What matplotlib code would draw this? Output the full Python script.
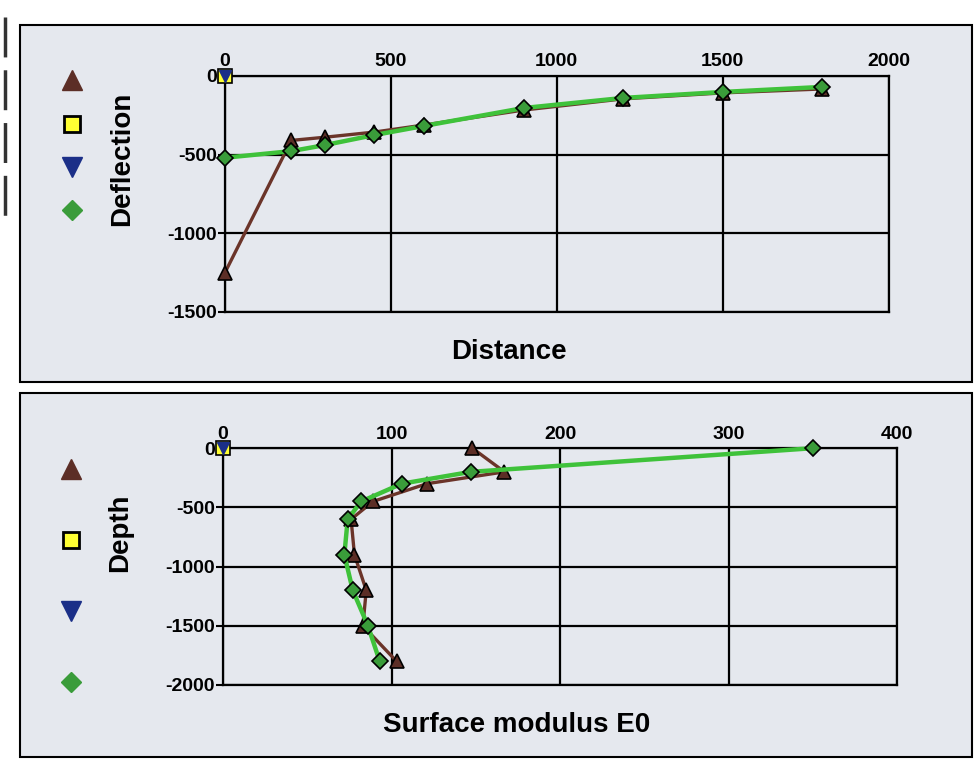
import matplotlib
matplotlib.use("Agg")
import matplotlib.pyplot as plt
from matplotlib.lines import Line2D
from matplotlib.patches import Rectangle

plt.rcParams["font.family"] = ["Liberation Sans", "DejaVu Sans"]
plt.rcParams["font.weight"] = "bold"
plt.rcParams["axes.labelweight"] = "bold"
plt.rcParams["axes.unicode_minus"] = False

# upper chart: deflection against distance
distance = [0, 200, 300, 450, 600, 900, 1200, 1500, 1800]
deflection_measured = [-1250, -410, -390, -357, -312, -217, -146, -108, -83]
deflection_calc = [-520, -478, -440, -376, -318, -204, -140, -102, -70]
dist_ticks = [0, 500, 1000, 1500, 2000]
defl_ticks = [-1500, -1000, -500, 0]

# lower chart: surface modulus against depth
depth = [0, -200, -300, -450, -600, -900, -1200, -1500, -1800]
modulus_measured = [148, 167, 121, 89, 76, 78, 85, 83, 103]
modulus_calc = [350, 147, 106, 82, 74, 72, 77, 86, 93]
mod_ticks = [0, 100, 200, 300, 400]
depth_ticks = [-2000, -1500, -1000, -500, 0]

# single reference points at the origin
ref_x = [0]
ref_y = [0]

BG = "#e5e8ee"
BROWN = "#6b3429"
BROWN_FILL = "#5c2e26"
GREEN = "#3fc23a"
GREEN_FILL = "#3a9c3a"
YELLOW = "#ffff33"
BLUE = "#1b2f88"


def draw_panel(ax, xs, meas, calc, xticks, yticks, horizontal):
    # horizontal=True: x is distance, y is deflection; else x is modulus, y is depth
    if horizontal:
        mx, my, cx, cy = xs, meas, xs, calc
    else:
        mx, my, cx, cy = meas, xs, calc, xs
    ax.plot(mx, my, color=BROWN, lw=2.4, marker="^", ms=10,
            mfc=BROWN_FILL, mec="black", mew=1.2, zorder=3, clip_on=False)
    ax.plot(cx, cy, color=GREEN, lw=3.2, marker="D", ms=8.5,
            mfc=GREEN_FILL, mec="black", mew=1.2, zorder=4, clip_on=False)
    ax.plot(ref_x, ref_y, ls="none", marker="s", ms=10, mfc=YELLOW,
            mec="black", mew=1.2, zorder=5, clip_on=False)
    ax.plot(ref_x, ref_y, ls="none", marker="v", ms=9, mfc=BLUE,
            mec=BLUE, zorder=6, clip_on=False)

    ax.set_facecolor("none")
    ax.set_xlim(xticks[0], xticks[-1])
    ax.set_ylim(yticks[0], yticks[-1])
    ax.set_xticks(xticks)
    ax.set_yticks(yticks)
    ax.xaxis.tick_top()
    ax.tick_params(axis="x", length=0, pad=4, labelsize=14)
    ax.tick_params(axis="y", length=5, width=1.5, pad=1, labelsize=14)
    ax.grid(True, color="black", lw=1.6)
    for sp in ax.spines.values():
        sp.set_color("black")
        sp.set_linewidth(1.6)


def add_key(fig, anchor, spacing):
    handles = [
        Line2D([], [], ls="none", marker="^", ms=14, mfc=BROWN_FILL, mec=BROWN_FILL),
        Line2D([], [], ls="none", marker="s", ms=11, mfc=YELLOW, mec="black", mew=2),
        Line2D([], [], ls="none", marker="v", ms=14, mfc=BLUE, mec=BLUE),
        Line2D([], [], ls="none", marker="D", ms=10, mfc=GREEN_FILL, mec=GREEN_FILL),
    ]
    fig.legend(handles, [""] * 4, loc="center", bbox_to_anchor=anchor,
               frameon=False, fontsize=10, handlelength=1.0, handletextpad=0,
               borderpad=0, labelspacing=spacing)


fig = plt.figure(figsize=(9.76, 7.59), dpi=100)
fig.patch.set_facecolor("white")

fig.add_artist(Rectangle((0.0205, 0.4967), 0.975, 0.4704, transform=fig.transFigure,
                         facecolor=BG, edgecolor="black", lw=1.5, zorder=-5))
fig.add_artist(Rectangle((0.0205, 0.0026), 0.975, 0.4796, transform=fig.transFigure,
                         facecolor=BG, edgecolor="black", lw=1.5, zorder=-5))
# scanner marks at the left edge
fig.add_artist(Line2D([0.005, 0.005], [0.977, 0.713], transform=fig.transFigure,
                      color="#333333", lw=2.5, ls=(0, (11.5, 3.7))))

ax1 = fig.add_axes([0.2305, 0.589, 0.680, 0.311])
draw_panel(ax1, distance, deflection_measured, deflection_calc,
           dist_ticks, defl_ticks, True)
ax1.set_xlabel("Distance", fontsize=20, va="center")
ax1.xaxis.set_label_coords(0.428, -0.17)
ax1.set_ylabel("Deflection", fontsize=20, va="center")
ax1.yaxis.set_label_coords(-0.155, 0.648)

ax2 = fig.add_axes([0.2285, 0.0975, 0.6906, 0.312])
draw_panel(ax2, depth, modulus_measured, modulus_calc,
           mod_ticks, depth_ticks, False)
ax2.set_xlabel("Surface modulus E0", fontsize=20, va="center")
ax2.xaxis.set_label_coords(0.436, -0.169)
ax2.set_ylabel("Depth", fontsize=20, va="center")
ax2.yaxis.set_label_coords(-0.153, 0.641)

add_key(fig, (0.0738, 0.8077), 2.1)
add_key(fig, (0.0727, 0.241), 4.1)

fig.savefig("out.png", dpi=100, facecolor=fig.get_facecolor())
